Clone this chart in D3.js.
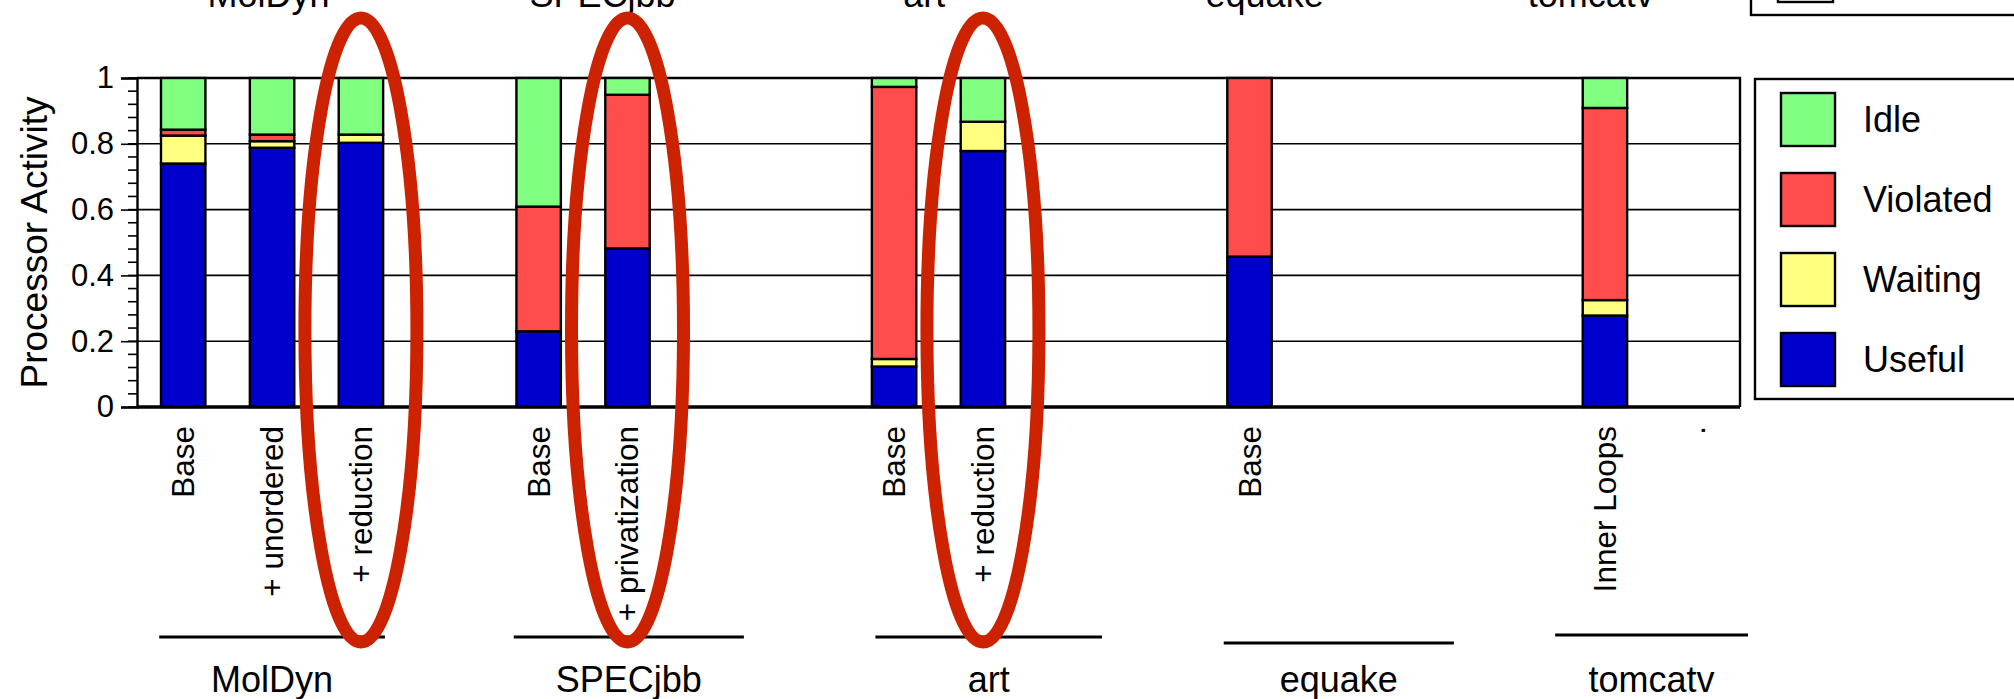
<!DOCTYPE html>
<html>
<head>
<meta charset="utf-8">
<script src="https://cdn.jsdelivr.net/npm/d3@7"></script>
<style>
  html, body { margin: 0; padding: 0; background: #fff; }
  svg { display: block; font-family: "Liberation Sans", Arial, Helvetica, sans-serif; }
</style>
</head>
<body>
<svg id="chart" width="2014" height="699"></svg>
<script>
// ---- data -------------------------------------------------------------
// One slot per bar position along the x axis; empty slots separate benchmarks.
const barLabels = ["Base", "+ unordered", "+ reduction", "",
                   "Base", "+ privatization", "", "",
                   "Base", "+ reduction", "", "",
                   "Base", "", "", "",
                   "Inner Loops", "."];

// Fraction of processor time per category (bottom to top of each stack).
const useful   = [0.740, 0.788, 0.803, null, 0.230, 0.482, null, null, 0.123, 0.778, null, null, 0.457, null, null, null, 0.278, null];
const waiting  = [0.085, 0.020, 0.025, null, 0.000, 0.000, null, null, 0.023, 0.089, null, null, 0.000, null, null, null, 0.047, null];
const violated = [0.018, 0.020, 0.000, null, 0.379, 0.467, null, null, 0.827, 0.000, null, null, 0.543, null, null, null, 0.584, null];
const idle     = [0.157, 0.172, 0.172, null, 0.391, 0.051, null, null, 0.027, 0.133, null, null, 0.000, null, null, null, 0.091, null];

const seriesNames = ["Useful", "Waiting", "Violated", "Idle"];
const legendOrder = ["Idle", "Violated", "Waiting", "Useful"];

const benchmarks = ["MolDyn", "SPECjbb", "art", "equake", "tomcatv"];
// Highlighted configurations (slot indices).
const highlighted = [2, 5, 9];

const yTicks = [0, 0.2, 0.4, 0.6, 0.8, 1];

// ---- layout -----------------------------------------------------------
const colors = { Useful: "#0000cc", Waiting: "#ffff80", Violated: "#ff4d4d", Idle: "#80ff80" };
const plot = { left: 137, right: 1740, top: 78, bottom: 407 };
// Benchmark underline extents in slot units, with its y position.
const groupRules = [
  { from: -0.27, to: 2.27, y: 637 },
  { from: 3.72,  to: 6.31, y: 637 },
  { from: 7.79,  to: 10.34, y: 637 },
  { from: 11.71, to: 14.3, y: 643 },
  { from: 15.44, to: 17.61, y: 635 }
];
// Header row of benchmark names (mostly above the visible area).
const headerSlots = [0.96, 4.72, 8.34, 12.17, 15.84];

const svg = d3.select("#chart");

const x = d3.scaleBand()
  .domain(d3.range(barLabels.length))
  .range([plot.left, plot.right])
  .paddingInner(0.5)
  .paddingOuter(0.27);

const slotX = t => x(0) + x.bandwidth() / 2 + t * x.step();

const y = d3.scaleLinear().domain([0, 1]).range([plot.bottom, plot.top]);

// ---- stacked data -----------------------------------------------------
const rows = barLabels.map((label, i) => ({
  slot: i, label,
  Useful: useful[i], Waiting: waiting[i], Violated: violated[i], Idle: idle[i]
})).filter(d => d.Useful !== null);

const stacked = d3.stack().keys(seriesNames)(rows);

// ---- grid & frame -----------------------------------------------------
svg.append("g")
  .selectAll("line")
  .data(yTicks.filter(t => t > 0 && t < 1))
  .join("line")
  .attr("x1", plot.left).attr("x2", plot.right)
  .attr("y1", d => y(d)).attr("y2", d => y(d))
  .attr("stroke", "#000").attr("stroke-width", 1.6);

// top & right borders
svg.append("path")
  .attr("d", `M${plot.left},${y(1)}H${plot.right}V${y(0)}`)
  .attr("fill", "none").attr("stroke", "#000").attr("stroke-width", 2.4);

// ---- bars -------------------------------------------------------------
svg.append("g")
  .selectAll("g")
  .data(stacked)
  .join("g")
  .attr("fill", d => colors[d.key])
  .selectAll("rect")
  .data(d => d.filter(s => s[1] - s[0] > 0))
  .join("rect")
  .attr("x", d => x(d.data.slot))
  .attr("width", x.bandwidth())
  .attr("y", d => y(d[1]))
  .attr("height", d => y(d[0]) - y(d[1]))
  .attr("stroke", "#000")
  .attr("stroke-width", 2.4);

// ---- y axis -----------------------------------------------------------
const minor = d3.range(0, 1.0001, 0.04);
svg.append("g")
  .selectAll("line")
  .data(minor)
  .join("line")
  .attr("x1", plot.left - 9).attr("x2", plot.left)
  .attr("y1", d => y(d)).attr("y2", d => y(d))
  .attr("stroke", "#000").attr("stroke-width", 1.6);

const yAxis = svg.append("g")
  .attr("transform", `translate(${plot.left},0)`)
  .call(d3.axisLeft(y).tickValues(yTicks).tickFormat(d3.format("~g")).tickSize(16).tickPadding(7));
yAxis.select(".domain").attr("stroke-width", 2.4);
yAxis.selectAll(".tick line").attr("stroke-width", 1.6);
yAxis.selectAll(".tick text")
  .attr("font-size", 31)
  .attr("font-family", "Liberation Sans, Arial, sans-serif")
  .attr("fill", "#000");

// baseline
svg.append("line")
  .attr("x1", plot.left).attr("x2", plot.right)
  .attr("y1", y(0)).attr("y2", y(0))
  .attr("stroke", "#000").attr("stroke-width", 3.5);

svg.append("text")
  .attr("transform", `translate(47,${(y(0) + y(1)) / 2}) rotate(-90)`)
  .attr("text-anchor", "middle")
  .attr("font-size", 37)
  .text("Processor Activity");

// ---- bar labels (rotated) --------------------------------------------
svg.append("g")
  .selectAll("text")
  .data(barLabels.map((l, i) => ({ l, i })).filter(d => d.l !== ""))
  .join("text")
  .attr("transform", d => `translate(${slotX(d.i) + 11},${y(0) + 19}) rotate(-90)`)
  .attr("text-anchor", "end")
  .attr("font-size", 31.5)
  .text(d => d.l);

// ---- benchmark groups -------------------------------------------------
const groups = svg.append("g");
groups.selectAll("line")
  .data(groupRules)
  .join("line")
  .attr("x1", d => slotX(d.from)).attr("x2", d => slotX(d.to))
  .attr("y1", d => d.y).attr("y2", d => d.y)
  .attr("stroke", "#000").attr("stroke-width", 3);

groups.selectAll("text")
  .data(groupRules)
  .join("text")
  .attr("x", d => (slotX(d.from) + slotX(d.to)) / 2)
  .attr("y", 692)
  .attr("text-anchor", "middle")
  .attr("font-size", 36)
  .text((d, i) => benchmarks[i]);

// header row
svg.append("g")
  .selectAll("text")
  .data(headerSlots)
  .join("text")
  .attr("x", d => slotX(d))
  .attr("y", 7)
  .attr("text-anchor", "middle")
  .attr("font-size", 36)
  .text((d, i) => benchmarks[i]);

// ---- legend -----------------------------------------------------------
// partially visible legend above the chart
svg.append("rect")
  .attr("x", 1751).attr("y", -40).attr("width", 300).attr("height", 55)
  .attr("fill", "#fff").attr("stroke", "#000").attr("stroke-width", 2.4);
svg.append("rect")
  .attr("x", 1778).attr("y", -40).attr("width", 55).attr("height", 42)
  .attr("fill", "#fff").attr("stroke", "#000").attr("stroke-width", 2.4);

const legend = svg.append("g");
legend.append("rect")
  .attr("x", 1755).attr("y", 79).attr("width", 300).attr("height", 320)
  .attr("fill", "#fff").attr("stroke", "#000").attr("stroke-width", 2.4);

const legendRow = d3.scalePoint().domain(legendOrder).range([119, 359]);
const items = legend.selectAll("g.item")
  .data(legendOrder)
  .join("g")
  .attr("class", "item")
  .attr("transform", d => `translate(1781,${legendRow(d)})`);
items.append("rect")
  .attr("x", 0).attr("y", -26).attr("width", 54).attr("height", 53)
  .attr("fill", d => colors[d])
  .attr("stroke", "#000").attr("stroke-width", 2.4);
items.append("text")
  .attr("x", 82).attr("y", 0).attr("dy", "0.36em")
  .attr("font-size", 36)
  .text(d => d);

// ---- highlight rings --------------------------------------------------
svg.append("g")
  .selectAll("ellipse")
  .data(highlighted)
  .join("ellipse")
  .attr("cx", d => slotX(d))
  .attr("cy", 330)
  .attr("rx", 56)
  .attr("ry", 312)
  .attr("fill", "none")
  .attr("stroke", "#cc2200")
  .attr("stroke-width", 13);
</script>
</body>
</html>
